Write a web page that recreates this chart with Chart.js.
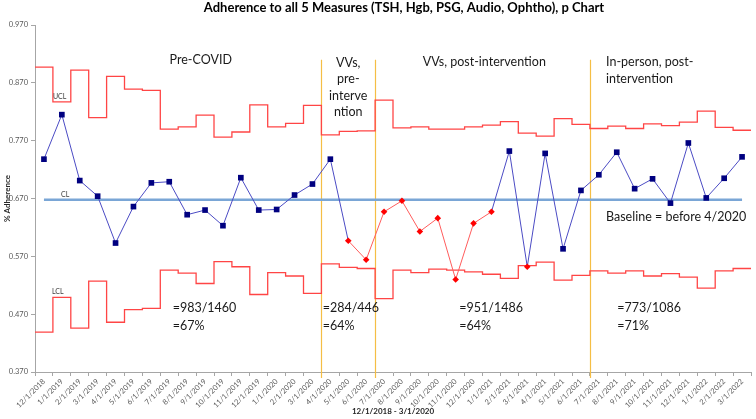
<!DOCTYPE html>
<html>
<head>
<meta charset="utf-8">
<script src="https://cdn.jsdelivr.net/npm/chart.js@4.4.0/dist/chart.umd.min.js"></script>
<style>
  body { margin: 0; background: #fff; }
  #wrap { width: 756px; height: 419px; position: relative; }
</style>
</head>
<body>
<div id="wrap"><canvas id="pChart"></canvas></div>
<script>
// months (one per category)
var months = ['12/1/2018', '1/1/2019', '2/1/2019', '3/1/2019', '4/1/2019', '5/1/2019', '6/1/2019',
  '7/1/2019', '8/1/2019', '9/1/2019', '10/1/2019', '11/1/2019', '12/1/2019', '1/1/2020', '2/1/2020',
  '3/1/2020', '4/1/2020', '5/1/2020', '6/1/2020', '7/1/2020', '8/1/2020', '9/1/2020', '10/1/2020',
  '11/1/2020', '12/1/2020', '1/1/2021', '2/1/2021', '3/1/2021', '4/1/2021', '5/1/2021', '6/1/2021',
  '7/1/2021', '8/1/2021', '9/1/2021', '10/1/2021', '11/1/2021', '12/1/2021', '1/1/2022', '2/1/2022', '3/1/2022'];

// monthly proportion adherent
var adherence = [0.738, 0.815, 0.701, 0.674, 0.593, 0.656, 0.697, 0.699, 0.642, 0.650, 0.623, 0.706,
  0.650, 0.651, 0.676, 0.695, 0.738, 0.597, 0.564, 0.647, 0.666, 0.613, 0.636, 0.530, 0.627, 0.647,
  0.752, 0.552, 0.748, 0.583, 0.684, 0.711, 0.750, 0.687, 0.704, 0.662, 0.766, 0.671, 0.705, 0.742];

// control limits per month
var ucl = [0.897, 0.837, 0.892, 0.810, 0.881, 0.859, 0.857, 0.790, 0.794, 0.814, 0.776, 0.785,
  0.832, 0.794, 0.800, 0.831, 0.780, 0.786, 0.787, 0.840, 0.792, 0.794, 0.790, 0.790, 0.794, 0.797,
  0.803, 0.783, 0.778, 0.808, 0.798, 0.791, 0.795, 0.791, 0.799, 0.796, 0.802, 0.821, 0.793, 0.788];
var lcl = [0.439, 0.499, 0.446, 0.527, 0.456, 0.478, 0.480, 0.546, 0.541, 0.523, 0.561, 0.552,
  0.504, 0.542, 0.536, 0.506, 0.557, 0.551, 0.549, 0.497, 0.546, 0.542, 0.548, 0.546, 0.543, 0.539,
  0.532, 0.554, 0.560, 0.529, 0.537, 0.545, 0.541, 0.545, 0.536, 0.540, 0.534, 0.515, 0.545, 0.549];
var centerLine = 0.668;

// months flagged red (video visits)
var redMonths = [17, 18, 19, 20, 21, 22, 23, 24, 25, 27];

// first month of each new phase
var phaseStarts = [16, 19, 31];

var yTicks = [0.37, 0.47, 0.57, 0.67, 0.77, 0.87, 0.97];

// text on the plot: x in category index, y in data value
var notes = [
  { lines: ['Pre-COVID'], x: 8.76, y: 0.9095, align: 'center', size: 12.5, gap: 16 },
  { lines: ['VVs,', 'pre-', 'interve', 'ntion'], x: 17, y: 0.904, align: 'center', size: 12.5, gap: 16.2 },
  { lines: ['VVs, post-intervention'], x: 24.6, y: 0.906, align: 'center', size: 12.5, gap: 16 },
  { lines: ['In-person, post-', 'intervention'], x: 31.4, y: 0.9065, align: 'left', size: 12.5, gap: 17 },
  { lines: ['=983/1460', '=67%'], x: 7.19, y: 0.480, align: 'left', size: 12.5, gap: 18 },
  { lines: ['=284/446', '=64%'], x: 15.57, y: 0.480, align: 'left', size: 12.5, gap: 18 },
  { lines: ['=951/1486', '=64%'], x: 23.2, y: 0.480, align: 'left', size: 12.5, gap: 18 },
  { lines: ['=773/1086', '=71%'], x: 32.03, y: 0.480, align: 'left', size: 12.5, gap: 18 },
  { lines: ['Baseline = before 4/2020'], x: 31.4, y: 0.6385, align: 'left', size: 12.5, gap: 16 },
  { lines: ['UCL'], x: 0.5, y: 0.8455, align: 'left', size: 7, gap: 8 },
  { lines: ['CL'], x: 0.95, y: 0.6766, align: 'left', size: 7, gap: 8 },
  { lines: ['LCL'], x: 0.45, y: 0.5083, align: 'left', size: 7, gap: 8 }
];

function stepPoints(limits) {
  var pts = limits.map(function (v, i) { return { x: i - 0.5, y: v }; });
  pts.push({ x: limits.length - 0.5, y: limits[limits.length - 1] });
  return pts;
}

var isRed = function (i) { return redMonths.indexOf(i) >= 0; };

var overlay = {
  id: 'overlay',
  beforeDatasetsDraw: function (chart) {
    var ctx = chart.ctx, xl = chart.scales.xl, y = chart.scales.y;
    ctx.save();
    ctx.strokeStyle = '#F5BE45';
    ctx.lineWidth = 1.2;
    phaseStarts.forEach(function (p) {
      var px = Math.round(xl.getPixelForValue(p - 0.5)) + 0.5;
      ctx.beginPath();
      ctx.moveTo(px, y.getPixelForValue(0.91));
      ctx.lineTo(px, chart.chartArea.bottom + 6);
      ctx.stroke();
    });
    ctx.restore();
  },
  afterDraw: function (chart) {
    var ctx = chart.ctx, xl = chart.scales.xl, y = chart.scales.y;
    ctx.save();
    ctx.fillStyle = '#000';
    ctx.font = 'bold 13px Lato';
    ctx.textAlign = 'center';
    ctx.textBaseline = 'middle';
    ctx.fillText('Adherence to all 5 Measures (TSH, Hgb, PSG, Audio, Ophtho), p Chart', 404, 8);
    notes.forEach(function (n) {
      ctx.font = n.size + 'px Lato';
      ctx.fillStyle = n.size < 10 ? '#404040' : '#1a1a1a';
      ctx.textAlign = n.align;
      var px = xl.getPixelForValue(n.x), py = y.getPixelForValue(n.y);
      n.lines.forEach(function (t, k) { ctx.fillText(t, px, py + k * n.gap); });
    });
    ctx.restore();
  }
};

var tickFont = { family: 'Lato', size: 7.5 };

new Chart(document.getElementById('pChart'), {
  type: 'line',
  data: {
    labels: months,
    datasets: [
      {
        label: 'Adherence',
        data: adherence,
        xAxisID: 'x',
        borderColor: '#4B4BC4',
        borderWidth: 1,
        segment: {
          borderColor: function (c) {
            return isRed(c.p0DataIndex) && isRed(c.p1DataIndex) ? '#FF5C5C' : '#4B4BC4';
          }
        },
        pointStyle: adherence.map(function (v, i) { return isRed(i) ? 'rectRot' : 'rect'; }),
        pointRadius: adherence.map(function (v, i) { return isRed(i) ? 3.3 : 4; }),
        pointBackgroundColor: adherence.map(function (v, i) { return isRed(i) ? '#FF0000' : '#000080'; }),
        pointBorderWidth: 0
      },
      {
        label: 'CL',
        data: months.map(function () { return centerLine; }),
        xAxisID: 'x',
        borderColor: '#7AA6D6',
        borderWidth: 2.5,
        pointRadius: 0
      },
      {
        label: 'UCL',
        data: stepPoints(ucl),
        xAxisID: 'xl',
        stepped: 'before',
        borderColor: '#FF4545',
        borderWidth: 1.3,
        pointRadius: 0
      },
      {
        label: 'LCL',
        data: stepPoints(lcl),
        xAxisID: 'xl',
        stepped: 'before',
        borderColor: '#FF4545',
        borderWidth: 1.3,
        pointRadius: 0
      }
    ]
  },
  options: {
    responsive: true,
    maintainAspectRatio: false,
    animation: false,
    layout: { padding: { top: 25, right: 5, left: 0, bottom: 0 } },
    plugins: { legend: { display: false }, tooltip: { enabled: false } },
    scales: {
      x: {
        type: 'category',
        offset: true,
        afterFit: function (s) { s.height = 47; },
        ticks: { autoSkip: false, maxRotation: 45, minRotation: 45, font: tickFont, color: '#595959', padding: 1 },
        grid: { offset: true, drawOnChartArea: false, tickLength: 4, color: '#A6A6A6' },
        border: { color: '#A6A6A6' },
        title: { display: true, text: '12/1/2018 - 3/1/2020', color: '#262626',
          font: { family: 'Lato', size: 8, weight: 'bold' }, padding: { top: 0, bottom: 3 } }
      },
      xl: { type: 'linear', display: false, min: -0.5, max: months.length - 0.5 },
      y: {
        min: 0.37,
        max: 0.97,
        afterBuildTicks: function (s) { s.ticks = yTicks.map(function (v) { return { value: v }; }); },
        afterFit: function (s) { s.width = 35; },
        ticks: { font: tickFont, color: '#595959', padding: 3,
          callback: function (v) { return v.toFixed(3); } },
        grid: { drawOnChartArea: false, tickLength: 4, color: '#A6A6A6' },
        border: { color: '#A6A6A6' },
        title: { display: true, text: '% Adherence', color: '#262626',
          font: { family: 'Lato', size: 8, weight: 'bold' }, padding: { top: 3, bottom: 0 } }
      }
    }
  },
  plugins: [overlay]
});
</script>
</body>
</html>
